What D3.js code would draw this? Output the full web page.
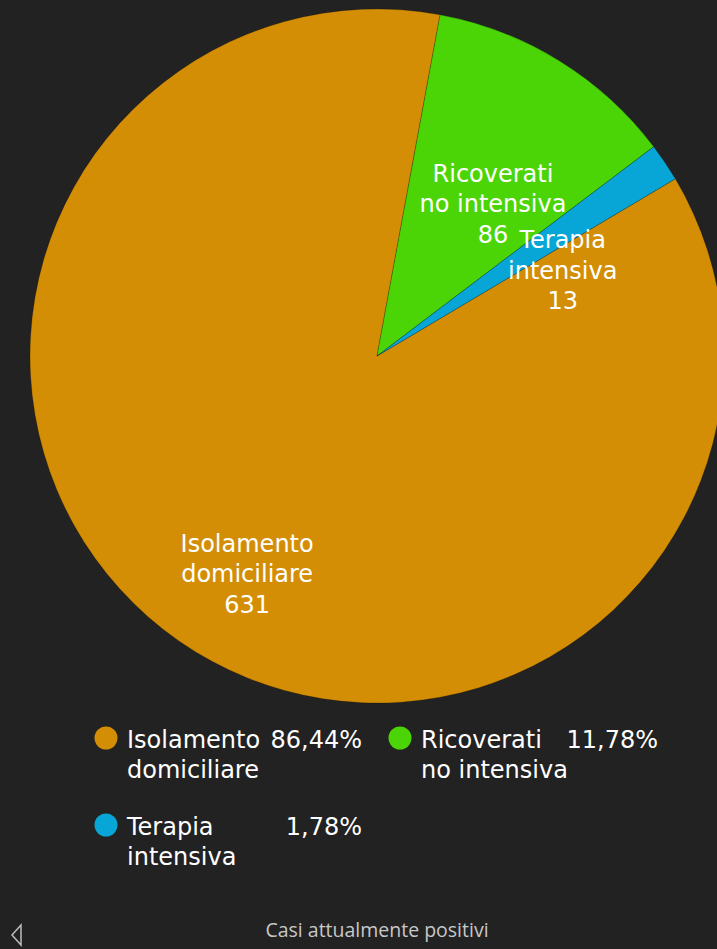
<!DOCTYPE html>
<html><head><meta charset="utf-8">
<script src="https://cdn.jsdelivr.net/npm/d3@7"></script>
<style>
html,body{margin:0;padding:0;background:#222222;overflow:hidden;}
svg{display:block;}
</style></head>
<body>
<svg id="chart" width="717" height="949"></svg>
<script>
const categories = ["Isolamento domiciliare", "Ricoverati no intensiva", "Terapia intensiva"];
const labelLines = [["Isolamento", "domiciliare"], ["Ricoverati", "no intensiva"], ["Terapia", "intensiva"]];
const values = [631, 86, 13];
const percentLabels = ["86,44%", "11,78%", "1,78%"];
const colors = ["#d38e05", "#4bd506", "#08a6d6"];
const footerTitle = "Casi attualmente positivi";

const svg = d3.select("#chart");
const font = "'DejaVu Sans', sans-serif";
const footFont = "'Open Sans', 'Noto Sans', sans-serif";
const cx = 377, cy = 356, R = 347;

const deg = Math.PI / 180;
const start = 59.3 * deg;
const pie = d3.pie().sort(null).startAngle(start).endAngle(start + 2 * Math.PI);
const arcs = pie(values);
const arc = d3.arc().innerRadius(0).outerRadius(R);

const g = svg.append("g").attr("transform", `translate(${cx},${cy})`);
g.selectAll("path").data(arcs).join("path")
  .attr("d", arc)
  .attr("fill", (d, i) => colors[i])
  .attr("stroke", "rgba(0,0,0,0.25)")
  .attr("stroke-width", 0.8);

// slice labels
const labelR = [0.729, 0.553, 0.59];
const angleShift = [-4 * deg, 5.5 * deg, 9 * deg];
arcs.forEach((d, i) => {
  const a = (d.startAngle + d.endAngle) / 2 + angleShift[i];
  const r = R * labelR[i];
  const x = Math.sin(a) * r, y = -Math.cos(a) * r;
  const lines = labelLines[i].concat([String(values[i])]);
  lines.forEach((ln, k) => {
    g.append("text")
      .attr("x", x).attr("y", y + (k - 1) * 30.5 + 9)
      .attr("text-anchor", "middle")
      .attr("fill", "#ffffff")
      .style("font-family", font)
      .style("font-size", "24px")
      .text(ln);
  });
});

// legend
const legendPos = [[106, 738], [400, 738], [106, 825]];
const pctRight = [362, 658, 362];
categories.forEach((c, i) => {
  const [lx, ly] = legendPos[i];
  svg.append("circle").attr("cx", lx).attr("cy", ly).attr("r", 11.5).attr("fill", colors[i]);
  labelLines[i].forEach((ln, k) => {
    svg.append("text").attr("fill", "#ffffff")
      .attr("x", lx + 21).attr("y", ly + 10 + k * 30)
      .style("font-family", font).style("font-size", "24px")
      .text(ln);
  });
  svg.append("text").attr("x", pctRight[i]).attr("y", ly + 10)
    .attr("text-anchor", "end").attr("fill", "#ffffff")
    .style("font-family", font).style("font-size", "24px")
    .text(percentLabels[i]);
});

// footer
svg.append("text").attr("x", 377).attr("y", 937).attr("text-anchor", "middle")
  .attr("fill", "#c8c8c8").style("font-family", footFont).style("font-size", "19.5px")
  .text(footerTitle);
svg.append("path").attr("d", "M21,925 L12,935 L21,945 Z")
  .attr("fill", "none").attr("stroke", "#bdbdbd").attr("stroke-width", 1.5);
</script>
</body></html>
